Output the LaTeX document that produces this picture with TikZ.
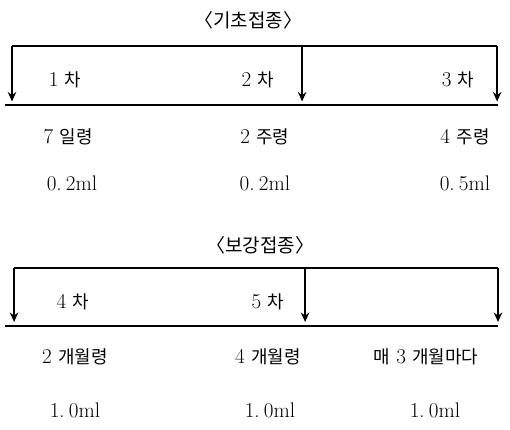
\documentclass[tikz,border=0pt]{standalone}
\usepackage{fontspec}
\newfontfamily\kr{Noto Sans CJK KR}
\newcommand\hg[1]{{\fontsize{17}{20}\selectfont\kr #1}}
\usetikzlibrary{arrows.meta}

\begin{document}
\begin{tikzpicture}[>={Stealth[length=9pt,width=8pt]},shot/.style={->, line width=1.6pt},base/.style={line width=1.4pt},txt/.style={font=\fontsize{20}{24}\selectfont, inner sep=1pt},dose/.style={font=\fontsize{20}{24}\selectfont, inner sep=1pt},title/.style={font=\fontsize{18}{21}\selectfont\kr}]
\useasboundingbox (0,0) rectangle (17,14.333);
% basic vaccination
\node[title] (basic) at (8.28,13.67) {〈기초접종〉};
\coordinate (b1) at (0.4,12.8); \coordinate (b2) at (10.07,12.8); \coordinate (b3) at (16.57,12.8);
\coordinate (bl) at (0.17,10.83); \coordinate (br) at (16.6,10.83);
\draw[base] (b1) -- (b3); \draw[base] (bl) -- (br);
\foreach \c in {b1,b2,b3} \draw[shot] (\c) -- (\c |- 0,10.95);
\node[txt] (d1) at (2.17,11.67) {1 \hg{차}}; \node[txt] (d2) at (8.6,11.67) {2 \hg{차}}; \node[txt] (d3) at (15.27,11.67) {3 \hg{차}};
\node[txt] (a1) at (2.27,9.77) {7 \hg{일령}}; \node[txt] (a2) at (8.83,9.77) {2 \hg{주령}}; \node[txt] (a3) at (15.5,9.77) {4 \hg{주령}};
\node[dose] (v1) at (2.4,8.23) {0.\hspace{0.2em}2ml}; \node[dose] (v2) at (8.83,8.23) {0.\hspace{0.2em}2ml}; \node[dose] (v3) at (15.5,8.23) {0.\hspace{0.2em}5ml};
% booster
\node[title] (boost) at (8.67,6.17) {〈보강접종〉};
\coordinate (k1) at (0.47,5.4); \coordinate (k2) at (10.17,5.4); \coordinate (k3) at (16.6,5.4);
\coordinate (kl) at (0.17,3.47); \coordinate (kr) at (16.6,3.47);
\draw[base] (k1) -- (k3); \draw[base] (kl) -- (kr);
\foreach \c in {k1,k2,k3} \draw[shot] (\c) -- (\c |- 0,3.6);
\node[txt] (d4) at (2.43,4.27) {4 \hg{차}}; \node[txt] (d5) at (8.93,4.27) {5 \hg{차}};
\node[txt] (m1) at (2.5,2.43) {2 \hg{개월령}}; \node[txt] (m2) at (8.93,2.43) {4 \hg{개월령}}; \node[txt] (m3) at (14.2,2.43) {\hg{매} 3 \hg{개월마다}};
\node[dose] (w1) at (2.5,0.67) {1.\hspace{0.2em}0ml}; \node[dose] (w2) at (9.0,0.67) {1.\hspace{0.2em}0ml}; \node[dose] (w3) at (14.5,0.67) {1.\hspace{0.2em}0ml};
\end{tikzpicture}
\end{document}
